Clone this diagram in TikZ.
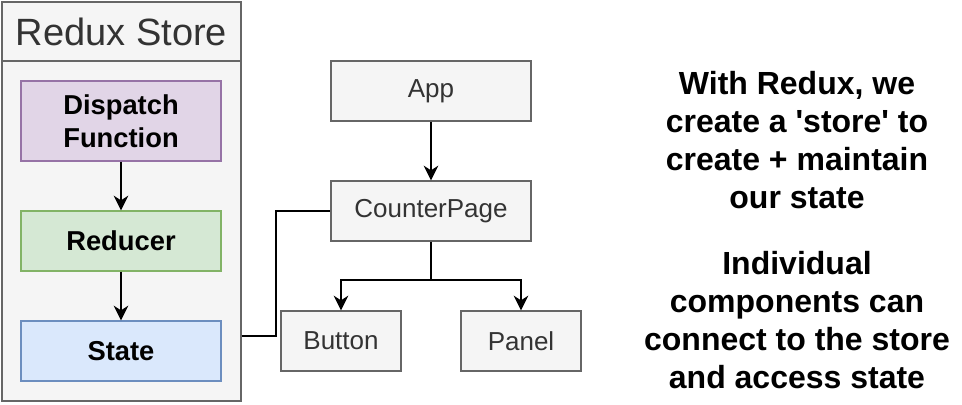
\documentclass[tikz,border=0pt]{standalone}
\usepackage{fontspec}
\setmainfont{Liberation Sans}
\usetikzlibrary{arrows.meta}
\definecolor{grayfill}{HTML}{F5F5F5}
\definecolor{graystroke}{HTML}{666666}
\definecolor{graytext}{HTML}{333333}
\definecolor{purplefill}{HTML}{E1D5E7}
\definecolor{purplestroke}{HTML}{9673A6}
\definecolor{greenfill}{HTML}{D5E8D4}
\definecolor{greenstroke}{HTML}{82B366}
\definecolor{bluefill}{HTML}{DAE8FC}
\definecolor{bluestroke}{HTML}{6C8EBF}
\tikzset{
  px/.style={x=0.75pt,y=-0.75pt},
  box/.style={draw=graystroke,fill=grayfill,line width=1pt,rectangle,inner sep=0pt,anchor=center,text=graytext,font=\fontsize{19.5pt}{23pt}\selectfont},
  storebox/.style={line width=1pt,rectangle,inner sep=0pt,anchor=center,align=center,font=\bfseries\fontsize{20.5pt}{25pt}\selectfont},
  conn/.style={line width=1.5pt,black},
  arr/.style={conn,-{Stealth[length=11pt,width=11pt,inset=3.5pt]}},
  note/.style={align=center,font=\bfseries\fontsize{24pt}{28.5pt}\selectfont,inner sep=0pt}
}
\begin{document}
\begin{tikzpicture}[px]
\useasboundingbox (0,0) rectangle (962,404);
% store container
\node[box,minimum width=239*0.75pt,minimum height=399*0.75pt] (store) at (121.5,201.5) {};
\node[box,minimum width=239*0.75pt,minimum height=59*0.75pt,font=\fontsize{28.5pt}{30pt}\selectfont] (title) at (121.5,31.5) {Redux Store};
\node[storebox,draw=purplestroke,fill=purplefill,minimum width=200*0.75pt,minimum height=80*0.75pt] (dispatch) at (121,121) {Dispatch\\Function};
\node[storebox,draw=greenstroke,fill=greenfill,minimum width=200*0.75pt,minimum height=60*0.75pt] (reducer) at (121,241) {Reducer};
\node[storebox,draw=bluestroke,fill=bluefill,minimum width=200*0.75pt,minimum height=60*0.75pt] (state) at (121,351) {State};
\draw[arr] (dispatch) -- (reducer);
\draw[arr] (reducer) -- (state);
% components
\node[box,minimum width=200*0.75pt,minimum height=60*0.75pt] (app) at (431,91) {App};
\node[box,minimum width=200*0.75pt,minimum height=60*0.75pt] (cp) at (431,211) {CounterPage};
\node[box,minimum width=120*0.75pt,minimum height=60*0.75pt] (button) at (341,341) {Button};
\node[box,minimum width=120*0.75pt,minimum height=60*0.75pt] (panel) at (521,341) {Panel};
\draw[arr] (app) -- (cp);
\coordinate (split) at (431,280);
\draw[arr] (cp.south) -- (split) -| (button.north);
\draw[arr] (split) -| (panel.north);
\coordinate (bend) at (276,336);
\draw[conn] (store.east |- bend) -- (bend) |- (cp.west);
% notes
\node[note] (note1) at (797,140) {With Redux, we\\create a \textquotesingle store\textquotesingle{} to\\create + maintain\\our state};
\node[note] (note2) at (797,320) {Individual\\components can\\connect to the store\\and access state};
\end{tikzpicture}
\end{document}
